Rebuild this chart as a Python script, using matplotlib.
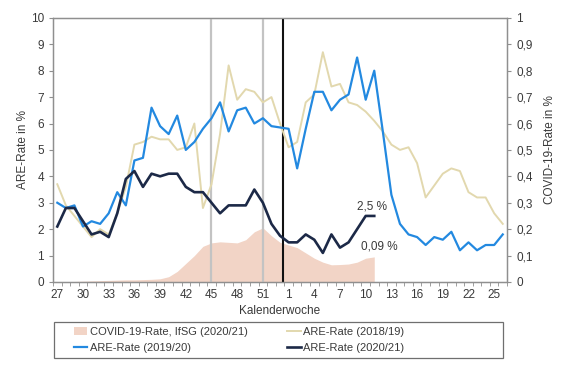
import numpy as np
import matplotlib.pyplot as plt
from matplotlib.patches import Patch, Rectangle
from matplotlib.lines import Line2D
from matplotlib.ticker import FixedLocator, FuncFormatter

plt.rcParams['font.family'] = ['Liberation Sans', 'DejaVu Sans']

# Kalenderwochen 27..53, 1..26
weeks = list(range(27, 54)) + list(range(1, 27))

are_2018 = [3.7, 2.9, 2.5, 2.1, 1.7, 2.0, 1.8, 2.6, 3.6, 5.2, 5.3, 5.5, 5.4, 5.4,
            5.0, 5.1, 6.0, 2.8, 3.7, 5.6, 8.2, 6.9, 7.3, 7.2, 6.8, 7.0, 6.0,
            5.1, 5.3, 6.8, 7.1, 8.7, 7.4, 7.5, 6.8, 6.7, 6.45, 6.1, 5.7, 5.2,
            5.0, 5.1, 4.5, 3.2, 3.65, 4.1, 4.3, 4.2, 3.4, 3.2, 3.2, 2.6, 2.2]

are_2019 = [3.0, 2.8, 2.9, 2.1, 2.3, 2.2, 2.6, 3.4, 2.9, 4.6, 4.7, 6.6, 5.9, 5.6,
            6.3, 5.0, 5.3, 5.8, 6.2, 6.8, 5.7, 6.5, 6.6, 6.0, 6.2, 5.9, 5.85,
            5.8, 4.3, 5.8, 7.2, 7.2, 6.5, 6.9, 7.1, 8.5, 6.9, 8.0, 5.7, 3.3,
            2.2, 1.8, 1.7, 1.4, 1.7, 1.6, 1.9, 1.2, 1.5, 1.2, 1.4, 1.4, 1.8]

are_2020 = [2.1, 2.8, 2.8, 2.3, 1.8, 1.9, 1.7, 2.6, 3.9, 4.2, 3.6, 4.1, 4.0, 4.1,
            4.1, 3.6, 3.4, 3.4, 3.0, 2.6, 2.9, 2.9, 2.9, 3.5, 3.0, 2.2, 1.75,
            1.5, 1.5, 1.8, 1.6, 1.1, 1.8, 1.3, 1.5, 2.0, 2.5, 2.5]

covid_2020 = [0.001, 0.001, 0.002, 0.003, 0.004, 0.005, 0.006, 0.007, 0.008,
              0.008, 0.009, 0.010, 0.012, 0.020, 0.040, 0.070, 0.100, 0.135,
              0.148, 0.152, 0.150, 0.148, 0.160, 0.190, 0.205, 0.175, 0.150,
              0.140, 0.130, 0.110, 0.090, 0.075, 0.065, 0.066, 0.068, 0.075,
              0.090, 0.095]

# markers: gray lines at week 45 and 51, black line at the turn of the year
gray_weeks = [45, 51]
year_turn = 26.3

c_covid = '#f2d4c6'
c_2018 = '#e2d8ae'
c_2019 = '#2389e0'
c_2020 = '#1c2947'
c_axis = '#8f8f8f'
c_text = '#3a3a3a'

fig = plt.figure(figsize=(5.64, 3.72), dpi=100)
ax = fig.add_axes([0.094, 0.242, 0.805, 0.710])
ax2 = ax.twinx()

x_all = np.arange(len(weeks))
x_cov = np.arange(len(covid_2020))

ax2.fill_between(x_cov, covid_2020, color=c_covid, lw=0)
ax2.set_ylim(0, 1)
ax.set_zorder(ax2.get_zorder() + 1)
ax.patch.set_visible(False)

for w in gray_weeks:
    ax.axvline(weeks.index(w), ymin=0, ymax=0.99, color='#c3c3c3', lw=1.6, zorder=1)
ax.axvline(year_turn, ymin=0, ymax=0.99, color='#111111', lw=1.5, zorder=1)

ax.plot(x_all, are_2018, color=c_2018, lw=1.4, zorder=2)
ax.plot(x_all, are_2019, color=c_2019, lw=1.6, zorder=3)
ax.plot(np.arange(len(are_2020)), are_2020, color=c_2020, lw=1.9, zorder=4)

ax.text(35.0, 2.84, '2,5 %', fontsize=8.5, color=c_text, ha='left', va='center')
ax.text(35.4, 1.33, '0,09 %', fontsize=8.5, color=c_text, ha='left', va='center')

ax.set_xlim(-0.5, len(weeks) - 0.5)
ax.set_ylim(0, 10)
ax.set_yticks(range(0, 11))
ax2.set_yticks(np.arange(0, 1.01, 0.1))
ax2.yaxis.set_major_formatter(FuncFormatter(
    lambda v, p: f'{int(round(v))}' if round(v, 3) in (0, 1) else f'{v:.1f}'.replace('.', ',')))

lab_idx = list(range(0, len(weeks), 3))
ax.set_xticks(lab_idx)
ax.set_xticklabels([str(weeks[i]) for i in lab_idx])
ax.xaxis.set_minor_locator(FixedLocator(np.arange(-0.5, len(weeks), 1)))
ax.tick_params(axis='x', which='major', length=0, pad=5)
ax.tick_params(axis='x', which='minor', length=3, color=c_axis, direction='out')

for a in (ax, ax2):
    for s in a.spines.values():
        s.set_color(c_axis)
        s.set_linewidth(0.9)
    a.tick_params(axis='y', length=3, color=c_axis, labelsize=8.5, labelcolor=c_text)
ax.tick_params(axis='x', labelsize=8.5, labelcolor=c_text)

ax.set_xlabel('Kalenderwoche', fontsize=8.5, color=c_text, labelpad=3)
ax.set_ylabel('ARE-Rate in %', fontsize=8.5, color=c_text, labelpad=1)
ax2.set_ylabel('COVID-19-Rate in %', fontsize=8.5, color=c_text, labelpad=8)

# legend box stretched like in the original, entries left aligned
fig.add_artist(Rectangle((54 / 564, 1 - 358 / 372), 449 / 564, 36 / 372,
                         transform=fig.transFigure, fill=False,
                         edgecolor='#6f6f6f', lw=0.9))

handles = [Patch(facecolor=c_covid, edgecolor='none'),
           Line2D([], [], color=c_2019, lw=1.6),
           Line2D([], [], color=c_2018, lw=1.4),
           Line2D([], [], color=c_2020, lw=1.9)]
labels = ['COVID-19-Rate, IfSG (2020/21)', 'ARE-Rate (2019/20)',
          'ARE-Rate (2018/19)', 'ARE-Rate (2020/21)']
leg = fig.legend(handles, labels, ncol=2, loc='upper left',
                 bbox_to_anchor=(74 / 564, 1 - 327 / 372),
                 fontsize=8, frameon=False, borderpad=0,
                 handlelength=1.2, handletextpad=0.2, labelspacing=0.55,
                 borderaxespad=0, columnspacing=3.6)
for t in leg.get_texts():
    t.set_color(c_text)

fig.savefig('out.png', dpi=100)
